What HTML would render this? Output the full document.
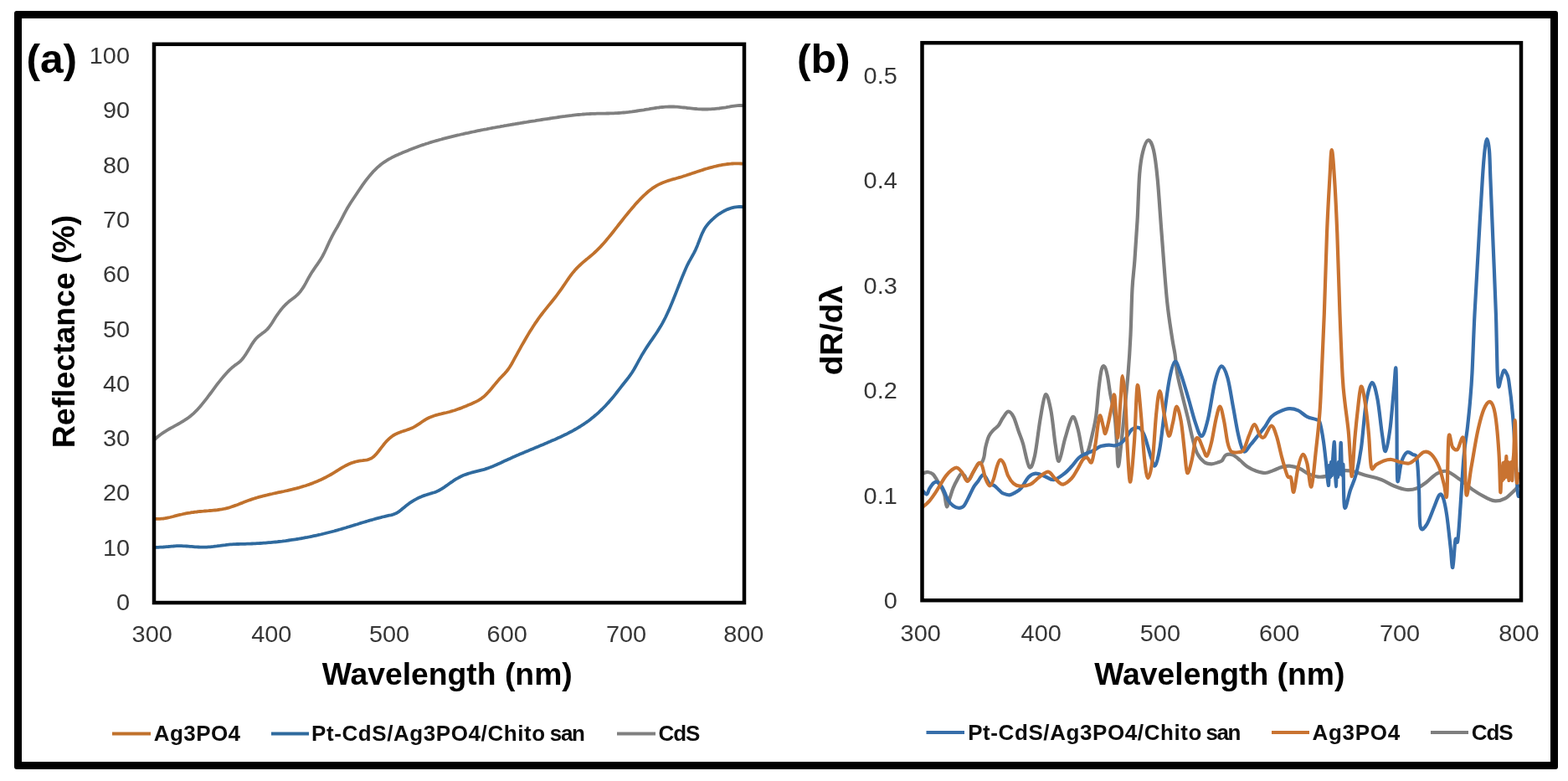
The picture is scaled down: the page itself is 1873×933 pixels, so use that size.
<!DOCTYPE html>
<html><head><meta charset="utf-8"><title>Reflectance and dR/dλ spectra</title>
<style>
html,body{margin:0;padding:0;background:#fff;}
body{width:1873px;height:933px;overflow:hidden;}
svg{display:block;}
</style></head><body>
<svg width="1873" height="933" viewBox="0 0 1873 933">
<rect x="0" y="0" width="1873" height="933" fill="#fff"/>
<rect x="17" y="13" width="1844" height="906" rx="3" ry="3" fill="#000"/>
<rect x="26" y="22" width="1826" height="888" fill="#fff"/>

<g id="panel-a">
<g font-family="Liberation Sans, Arial, sans-serif" font-weight="bold" fill="#000" font-size="48">
<text x="31.4" y="87.0" textLength="60.8" lengthAdjust="spacingAndGlyphs" >(a)</text>
</g>
<g fill="#363636" font-family="Liberation Sans, Arial, sans-serif" font-size="27">
<text x="155.0" y="729.1" text-anchor="end" textLength="16.1" lengthAdjust="spacingAndGlyphs">0</text>
<text x="155.0" y="663.8" text-anchor="end" textLength="32.1" lengthAdjust="spacingAndGlyphs">10</text>
<text x="155.0" y="598.4" text-anchor="end" textLength="32.1" lengthAdjust="spacingAndGlyphs">20</text>
<text x="155.0" y="533.1" text-anchor="end" textLength="32.1" lengthAdjust="spacingAndGlyphs">30</text>
<text x="155.0" y="467.8" text-anchor="end" textLength="32.1" lengthAdjust="spacingAndGlyphs">40</text>
<text x="155.0" y="402.5" text-anchor="end" textLength="32.1" lengthAdjust="spacingAndGlyphs">50</text>
<text x="155.0" y="337.2" text-anchor="end" textLength="32.1" lengthAdjust="spacingAndGlyphs">60</text>
<text x="155.0" y="271.9" text-anchor="end" textLength="32.1" lengthAdjust="spacingAndGlyphs">70</text>
<text x="155.0" y="206.6" text-anchor="end" textLength="32.1" lengthAdjust="spacingAndGlyphs">80</text>
<text x="155.0" y="141.3" text-anchor="end" textLength="32.1" lengthAdjust="spacingAndGlyphs">90</text>
<text x="155.0" y="76.0" text-anchor="end" textLength="48.2" lengthAdjust="spacingAndGlyphs">100</text>
<text x="181.7" y="767.2" text-anchor="middle" textLength="48.2" lengthAdjust="spacingAndGlyphs">300</text>
<text x="324.3" y="767.2" text-anchor="middle" textLength="48.2" lengthAdjust="spacingAndGlyphs">400</text>
<text x="465.1" y="767.2" text-anchor="middle" textLength="48.2" lengthAdjust="spacingAndGlyphs">500</text>
<text x="605.7" y="767.2" text-anchor="middle" textLength="48.2" lengthAdjust="spacingAndGlyphs">600</text>
<text x="748.0" y="767.2" text-anchor="middle" textLength="48.2" lengthAdjust="spacingAndGlyphs">700</text>
<text x="888.3" y="767.2" text-anchor="middle" textLength="48.2" lengthAdjust="spacingAndGlyphs">800</text>
</g>
<g font-family="Liberation Sans, Arial, sans-serif" font-weight="bold" fill="#000" font-size="36">
<text x="0.0" y="0.0" text-anchor="middle" textLength="278.3" lengthAdjust="spacingAndGlyphs" transform="translate(88.6,396) rotate(-90)">Reflectance (%)</text>
<text x="534.2" y="817.6" text-anchor="middle" textLength="299.1" lengthAdjust="spacingAndGlyphs" >Wavelength (nm)</text>
</g>
<g fill="none" stroke-width="3.8" stroke-linejoin="round" stroke-linecap="round">
<path stroke="#2F6A9E" d="M185.0 653.8 L187.0 653.8 L189.0 653.8 L191.0 653.7 L193.0 653.6 L195.0 653.5 L197.0 653.3 L199.0 653.1 L201.0 653.0 L203.0 652.8 L205.0 652.6 L207.0 652.5 L209.0 652.3 L211.0 652.2 L213.0 652.2 L215.0 652.2 L217.0 652.2 L219.0 652.3 L221.0 652.4 L223.0 652.5 L225.0 652.6 L227.0 652.8 L229.0 652.9 L231.0 653.1 L233.0 653.3 L235.0 653.4 L237.0 653.5 L239.0 653.6 L241.0 653.7 L243.0 653.7 L245.0 653.6 L247.0 653.6 L249.0 653.4 L251.0 653.3 L253.0 653.1 L255.0 652.9 L257.0 652.6 L259.0 652.4 L261.0 652.1 L263.0 651.9 L265.0 651.6 L267.0 651.3 L269.0 651.1 L271.0 650.8 L273.0 650.6 L275.0 650.4 L277.0 650.3 L279.0 650.2 L281.0 650.1 L283.0 650.0 L285.0 650.0 L287.0 649.9 L289.0 649.9 L291.0 649.8 L293.0 649.8 L295.0 649.7 L297.0 649.7 L299.0 649.6 L301.0 649.5 L303.0 649.4 L305.0 649.3 L307.0 649.2 L309.0 649.1 L311.0 649.0 L313.0 648.9 L315.0 648.7 L317.0 648.6 L319.0 648.4 L321.0 648.2 L323.0 648.1 L325.0 647.9 L327.0 647.7 L329.0 647.5 L331.0 647.3 L333.0 647.0 L335.0 646.8 L337.0 646.6 L339.0 646.3 L341.0 646.1 L343.0 645.8 L345.0 645.5 L347.0 645.2 L349.0 644.9 L351.0 644.6 L353.0 644.3 L355.0 644.0 L357.0 643.7 L359.0 643.3 L361.0 643.0 L363.0 642.6 L365.0 642.2 L367.0 641.9 L369.0 641.5 L371.0 641.1 L373.0 640.7 L375.0 640.2 L377.0 639.8 L379.0 639.4 L381.0 638.9 L383.0 638.5 L385.0 638.0 L387.0 637.5 L389.0 637.0 L391.0 636.5 L393.0 636.0 L395.0 635.5 L397.0 635.0 L399.0 634.5 L401.0 633.9 L403.0 633.4 L405.0 632.8 L407.0 632.2 L409.0 631.6 L411.0 631.0 L413.0 630.5 L415.0 629.8 L417.0 629.2 L419.0 628.6 L421.0 628.0 L423.0 627.4 L425.0 626.8 L427.0 626.2 L429.0 625.5 L431.0 624.9 L433.0 624.3 L435.0 623.7 L437.0 623.1 L439.0 622.5 L441.0 621.9 L443.0 621.3 L445.0 620.8 L447.0 620.2 L449.0 619.6 L451.0 619.1 L453.0 618.6 L455.0 618.1 L457.0 617.5 L459.0 617.1 L461.0 616.6 L463.0 616.1 L465.0 615.7 L467.0 615.3 L469.0 614.8 L471.0 614.1 L473.0 613.3 L475.0 612.1 L477.0 610.8 L479.0 609.2 L481.0 607.5 L483.0 605.9 L485.0 604.3 L487.0 602.7 L489.0 601.2 L491.0 599.9 L493.0 598.6 L495.0 597.4 L497.0 596.3 L499.0 595.2 L501.0 594.3 L503.0 593.4 L505.0 592.6 L507.0 591.9 L509.0 591.2 L511.0 590.6 L513.0 590.0 L515.0 589.4 L517.0 588.8 L519.0 588.2 L521.0 587.4 L523.0 586.6 L525.0 585.5 L527.0 584.4 L529.0 583.1 L531.0 581.8 L533.0 580.4 L535.0 579.0 L537.0 577.5 L539.0 576.1 L541.0 574.8 L543.0 573.4 L545.0 572.2 L547.0 571.1 L549.0 570.0 L551.0 569.0 L553.0 568.1 L555.0 567.3 L557.0 566.6 L559.0 565.9 L561.0 565.3 L563.0 564.7 L565.0 564.2 L567.0 563.7 L569.0 563.2 L571.0 562.7 L573.0 562.2 L575.0 561.7 L577.0 561.2 L579.0 560.6 L581.0 559.9 L583.0 559.2 L585.0 558.5 L587.0 557.7 L589.0 556.9 L591.0 556.1 L593.0 555.2 L595.0 554.3 L597.0 553.4 L599.0 552.5 L601.0 551.5 L603.0 550.6 L605.0 549.7 L607.0 548.8 L609.0 547.9 L611.0 547.0 L613.0 546.1 L615.0 545.2 L617.0 544.3 L619.0 543.5 L621.0 542.6 L623.0 541.8 L625.0 540.9 L627.0 540.1 L629.0 539.2 L631.0 538.4 L633.0 537.6 L635.0 536.7 L637.0 535.9 L639.0 535.1 L641.0 534.2 L643.0 533.4 L645.0 532.6 L647.0 531.7 L649.0 530.9 L651.0 530.0 L653.0 529.2 L655.0 528.3 L657.0 527.5 L659.0 526.6 L661.0 525.7 L663.0 524.9 L665.0 524.0 L667.0 523.1 L669.0 522.2 L671.0 521.2 L673.0 520.3 L675.0 519.3 L677.0 518.4 L679.0 517.3 L681.0 516.3 L683.0 515.3 L685.0 514.2 L687.0 513.0 L689.0 511.9 L691.0 510.7 L693.0 509.5 L695.0 508.2 L697.0 506.9 L699.0 505.5 L701.0 504.1 L703.0 502.7 L705.0 501.2 L707.0 499.6 L709.0 498.0 L711.0 496.3 L713.0 494.6 L715.0 492.8 L717.0 490.9 L719.0 489.0 L721.0 487.0 L723.0 485.0 L725.0 482.8 L727.0 480.6 L729.0 478.3 L731.0 476.0 L733.0 473.6 L735.0 471.1 L737.0 468.5 L739.0 465.9 L741.0 463.3 L743.0 460.8 L745.0 458.3 L747.0 455.8 L749.0 453.3 L751.0 450.7 L753.0 447.9 L755.0 445.0 L757.0 441.7 L759.0 438.2 L761.0 434.6 L763.0 430.9 L765.0 427.3 L767.0 423.7 L769.0 420.4 L771.0 417.2 L773.0 414.1 L775.0 411.1 L777.0 408.2 L779.0 405.3 L781.0 402.4 L783.0 399.5 L785.0 396.5 L787.0 393.3 L789.0 390.1 L791.0 386.6 L793.0 382.9 L795.0 379.0 L797.0 374.8 L799.0 370.4 L801.0 365.7 L803.0 360.9 L805.0 356.0 L807.0 351.0 L809.0 345.9 L811.0 340.8 L813.0 335.7 L815.0 330.7 L817.0 325.9 L819.0 321.2 L821.0 316.8 L823.0 312.9 L825.0 309.3 L827.0 305.8 L829.0 302.2 L831.0 298.1 L833.0 293.4 L835.0 288.3 L837.0 283.1 L839.0 278.3 L841.0 274.3 L843.0 271.1 L845.0 268.4 L847.0 266.1 L849.0 264.0 L851.0 262.1 L853.0 260.3 L855.0 258.6 L857.0 257.1 L859.0 255.6 L861.0 254.3 L863.0 253.1 L865.0 252.0 L867.0 251.0 L869.0 250.1 L871.0 249.4 L873.0 248.7 L875.0 248.2 L877.0 247.7 L879.0 247.4 L881.0 247.2 L883.0 247.0 L885.0 247.0 L887.0 247.1"/>
<path stroke="#C0712C" d="M185.0 619.7 L187.0 619.9 L189.0 619.9 L191.0 619.9 L193.0 619.7 L195.0 619.5 L197.0 619.2 L199.0 618.8 L201.0 618.4 L203.0 618.0 L205.0 617.5 L207.0 617.0 L209.0 616.4 L211.0 615.9 L213.0 615.4 L215.0 614.9 L217.0 614.5 L219.0 614.0 L221.0 613.6 L223.0 613.2 L225.0 612.9 L227.0 612.6 L229.0 612.2 L231.0 612.0 L233.0 611.7 L235.0 611.5 L237.0 611.2 L239.0 611.0 L241.0 610.8 L243.0 610.7 L245.0 610.5 L247.0 610.3 L249.0 610.2 L251.0 610.0 L253.0 609.9 L255.0 609.7 L257.0 609.5 L259.0 609.3 L261.0 609.0 L263.0 608.7 L265.0 608.4 L267.0 608.0 L269.0 607.6 L271.0 607.1 L273.0 606.6 L275.0 606.0 L277.0 605.3 L279.0 604.6 L281.0 603.9 L283.0 603.2 L285.0 602.4 L287.0 601.6 L289.0 600.9 L291.0 600.1 L293.0 599.3 L295.0 598.5 L297.0 597.8 L299.0 597.1 L301.0 596.4 L303.0 595.7 L305.0 595.1 L307.0 594.5 L309.0 593.9 L311.0 593.4 L313.0 592.9 L315.0 592.3 L317.0 591.8 L319.0 591.4 L321.0 590.9 L323.0 590.4 L325.0 590.0 L327.0 589.5 L329.0 589.1 L331.0 588.7 L333.0 588.2 L335.0 587.8 L337.0 587.4 L339.0 587.0 L341.0 586.5 L343.0 586.1 L345.0 585.6 L347.0 585.1 L349.0 584.7 L351.0 584.2 L353.0 583.7 L355.0 583.1 L357.0 582.6 L359.0 582.0 L361.0 581.4 L363.0 580.8 L365.0 580.2 L367.0 579.5 L369.0 578.9 L371.0 578.1 L373.0 577.4 L375.0 576.6 L377.0 575.8 L379.0 575.0 L381.0 574.1 L383.0 573.2 L385.0 572.3 L387.0 571.3 L389.0 570.3 L391.0 569.2 L393.0 568.1 L395.0 567.0 L397.0 565.8 L399.0 564.6 L401.0 563.4 L403.0 562.1 L405.0 560.9 L407.0 559.6 L409.0 558.4 L411.0 557.3 L413.0 556.2 L415.0 555.2 L417.0 554.3 L419.0 553.4 L421.0 552.7 L423.0 552.1 L425.0 551.5 L427.0 551.1 L429.0 550.7 L431.0 550.4 L433.0 550.2 L435.0 549.9 L437.0 549.7 L439.0 549.3 L441.0 548.6 L443.0 547.8 L445.0 546.5 L447.0 544.9 L449.0 542.9 L451.0 540.6 L453.0 538.0 L455.0 535.4 L457.0 532.8 L459.0 530.3 L461.0 527.9 L463.0 525.8 L465.0 523.9 L467.0 522.2 L469.0 520.7 L471.0 519.5 L473.0 518.4 L475.0 517.5 L477.0 516.7 L479.0 515.9 L481.0 515.3 L483.0 514.6 L485.0 514.0 L487.0 513.3 L489.0 512.6 L491.0 511.8 L493.0 510.9 L495.0 509.9 L497.0 508.7 L499.0 507.4 L501.0 506.1 L503.0 504.7 L505.0 503.3 L507.0 502.0 L509.0 500.8 L511.0 499.8 L513.0 498.8 L515.0 498.0 L517.0 497.2 L519.0 496.5 L521.0 495.9 L523.0 495.4 L525.0 494.8 L527.0 494.4 L529.0 493.9 L531.0 493.4 L533.0 493.0 L535.0 492.5 L537.0 492.0 L539.0 491.4 L541.0 490.8 L543.0 490.2 L545.0 489.5 L547.0 488.8 L549.0 488.1 L551.0 487.4 L553.0 486.6 L555.0 485.8 L557.0 485.0 L559.0 484.1 L561.0 483.3 L563.0 482.4 L565.0 481.5 L567.0 480.6 L569.0 479.6 L571.0 478.6 L573.0 477.4 L575.0 476.1 L577.0 474.6 L579.0 472.8 L581.0 470.9 L583.0 468.8 L585.0 466.6 L587.0 464.2 L589.0 461.8 L591.0 459.4 L593.0 457.0 L595.0 454.6 L597.0 452.3 L599.0 450.2 L601.0 448.1 L603.0 446.1 L605.0 443.8 L607.0 441.3 L609.0 438.3 L611.0 435.0 L613.0 431.4 L615.0 427.7 L617.0 424.1 L619.0 420.4 L621.0 416.8 L623.0 413.2 L625.0 409.7 L627.0 406.2 L629.0 402.8 L631.0 399.4 L633.0 396.1 L635.0 392.9 L637.0 389.8 L639.0 386.7 L641.0 383.8 L643.0 380.9 L645.0 378.2 L647.0 375.5 L649.0 372.9 L651.0 370.4 L653.0 367.9 L655.0 365.4 L657.0 363.0 L659.0 360.5 L661.0 358.0 L663.0 355.5 L665.0 352.9 L667.0 350.2 L669.0 347.4 L671.0 344.6 L673.0 341.7 L675.0 338.7 L677.0 335.7 L679.0 332.8 L681.0 330.0 L683.0 327.4 L685.0 324.9 L687.0 322.6 L689.0 320.4 L691.0 318.4 L693.0 316.5 L695.0 314.7 L697.0 312.9 L699.0 311.2 L701.0 309.6 L703.0 307.9 L705.0 306.3 L707.0 304.6 L709.0 302.9 L711.0 301.0 L713.0 299.1 L715.0 297.1 L717.0 295.1 L719.0 292.9 L721.0 290.7 L723.0 288.4 L725.0 286.0 L727.0 283.6 L729.0 281.2 L731.0 278.7 L733.0 276.2 L735.0 273.6 L737.0 271.1 L739.0 268.5 L741.0 266.0 L743.0 263.5 L745.0 260.9 L747.0 258.4 L749.0 256.0 L751.0 253.5 L753.0 251.1 L755.0 248.7 L757.0 246.4 L759.0 244.1 L761.0 241.9 L763.0 239.7 L765.0 237.6 L767.0 235.6 L769.0 233.6 L771.0 231.8 L773.0 230.0 L775.0 228.3 L777.0 226.7 L779.0 225.2 L781.0 223.9 L783.0 222.6 L785.0 221.4 L787.0 220.4 L789.0 219.4 L791.0 218.5 L793.0 217.7 L795.0 217.0 L797.0 216.3 L799.0 215.6 L801.0 215.0 L803.0 214.4 L805.0 213.8 L807.0 213.3 L809.0 212.7 L811.0 212.1 L813.0 211.6 L815.0 211.0 L817.0 210.3 L819.0 209.7 L821.0 209.0 L823.0 208.4 L825.0 207.7 L827.0 207.0 L829.0 206.4 L831.0 205.7 L833.0 205.0 L835.0 204.4 L837.0 203.7 L839.0 203.1 L841.0 202.4 L843.0 201.8 L845.0 201.2 L847.0 200.6 L849.0 200.1 L851.0 199.6 L853.0 199.0 L855.0 198.6 L857.0 198.1 L859.0 197.7 L861.0 197.3 L863.0 196.9 L865.0 196.6 L867.0 196.3 L869.0 196.0 L871.0 195.8 L873.0 195.7 L875.0 195.5 L877.0 195.4 L879.0 195.4 L881.0 195.4 L883.0 195.4 L885.0 195.5 L887.0 195.7"/>
<path stroke="#808080" d="M185.0 524.8 L187.0 523.0 L189.0 521.3 L191.0 519.7 L193.0 518.3 L195.0 516.9 L197.0 515.6 L199.0 514.4 L201.0 513.2 L203.0 512.0 L205.0 510.9 L207.0 509.8 L209.0 508.7 L211.0 507.6 L213.0 506.5 L215.0 505.4 L217.0 504.2 L219.0 503.0 L221.0 501.7 L223.0 500.4 L225.0 499.0 L227.0 497.4 L229.0 495.8 L231.0 494.1 L233.0 492.2 L235.0 490.2 L237.0 488.0 L239.0 485.8 L241.0 483.4 L243.0 480.9 L245.0 478.4 L247.0 475.8 L249.0 473.2 L251.0 470.5 L253.0 467.8 L255.0 465.1 L257.0 462.4 L259.0 459.7 L261.0 457.1 L263.0 454.6 L265.0 452.1 L267.0 449.7 L269.0 447.4 L271.0 445.2 L273.0 443.1 L275.0 441.1 L277.0 439.3 L279.0 437.7 L281.0 436.1 L283.0 434.7 L285.0 433.3 L287.0 431.6 L289.0 429.5 L291.0 427.0 L293.0 424.2 L295.0 421.0 L297.0 417.7 L299.0 414.4 L301.0 411.1 L303.0 408.1 L305.0 405.5 L307.0 403.3 L309.0 401.5 L311.0 399.9 L313.0 398.4 L315.0 397.0 L317.0 395.4 L319.0 393.6 L321.0 391.4 L323.0 388.7 L325.0 385.7 L327.0 382.5 L329.0 379.3 L331.0 376.3 L333.0 373.5 L335.0 370.8 L337.0 368.4 L339.0 366.1 L341.0 364.0 L343.0 362.1 L345.0 360.3 L347.0 358.7 L349.0 357.3 L351.0 355.8 L353.0 354.2 L355.0 352.4 L357.0 350.4 L359.0 348.0 L361.0 345.2 L363.0 342.1 L365.0 338.6 L367.0 334.9 L369.0 331.2 L371.0 327.8 L373.0 324.6 L375.0 321.6 L377.0 318.7 L379.0 315.8 L381.0 312.9 L383.0 309.9 L385.0 306.5 L387.0 302.7 L389.0 298.5 L391.0 294.1 L393.0 289.7 L395.0 285.6 L397.0 281.6 L399.0 277.9 L401.0 274.4 L403.0 271.0 L405.0 267.4 L407.0 263.7 L409.0 259.8 L411.0 255.9 L413.0 252.1 L415.0 248.5 L417.0 245.2 L419.0 242.0 L421.0 239.0 L423.0 236.0 L425.0 233.0 L427.0 230.0 L429.0 227.0 L431.0 224.1 L433.0 221.2 L435.0 218.4 L437.0 215.7 L439.0 213.1 L441.0 210.6 L443.0 208.2 L445.0 205.9 L447.0 203.8 L449.0 201.8 L451.0 199.9 L453.0 198.2 L455.0 196.5 L457.0 195.0 L459.0 193.6 L461.0 192.3 L463.0 191.0 L465.0 189.9 L467.0 188.8 L469.0 187.7 L471.0 186.8 L473.0 185.8 L475.0 184.9 L477.0 184.0 L479.0 183.2 L481.0 182.3 L483.0 181.5 L485.0 180.7 L487.0 179.9 L489.0 179.1 L491.0 178.3 L493.0 177.5 L495.0 176.7 L497.0 176.0 L499.0 175.2 L501.0 174.5 L503.0 173.8 L505.0 173.1 L507.0 172.5 L509.0 171.8 L511.0 171.2 L513.0 170.5 L515.0 169.9 L517.0 169.3 L519.0 168.7 L521.0 168.1 L523.0 167.6 L525.0 167.0 L527.0 166.5 L529.0 165.9 L531.0 165.4 L533.0 164.9 L535.0 164.4 L537.0 163.9 L539.0 163.4 L541.0 162.9 L543.0 162.4 L545.0 161.9 L547.0 161.4 L549.0 161.0 L551.0 160.5 L553.0 160.1 L555.0 159.6 L557.0 159.2 L559.0 158.8 L561.0 158.3 L563.0 157.9 L565.0 157.5 L567.0 157.1 L569.0 156.6 L571.0 156.2 L573.0 155.8 L575.0 155.4 L577.0 155.0 L579.0 154.6 L581.0 154.3 L583.0 153.9 L585.0 153.5 L587.0 153.1 L589.0 152.7 L591.0 152.4 L593.0 152.0 L595.0 151.6 L597.0 151.3 L599.0 150.9 L601.0 150.6 L603.0 150.2 L605.0 149.9 L607.0 149.5 L609.0 149.2 L611.0 148.8 L613.0 148.5 L615.0 148.2 L617.0 147.8 L619.0 147.5 L621.0 147.2 L623.0 146.8 L625.0 146.5 L627.0 146.2 L629.0 145.9 L631.0 145.5 L633.0 145.2 L635.0 144.9 L637.0 144.6 L639.0 144.3 L641.0 143.9 L643.0 143.6 L645.0 143.3 L647.0 143.0 L649.0 142.7 L651.0 142.4 L653.0 142.1 L655.0 141.8 L657.0 141.5 L659.0 141.2 L661.0 140.9 L663.0 140.6 L665.0 140.3 L667.0 140.0 L669.0 139.7 L671.0 139.4 L673.0 139.1 L675.0 138.9 L677.0 138.6 L679.0 138.3 L681.0 138.1 L683.0 137.9 L685.0 137.6 L687.0 137.4 L689.0 137.2 L691.0 137.0 L693.0 136.8 L695.0 136.7 L697.0 136.5 L699.0 136.4 L701.0 136.2 L703.0 136.1 L705.0 136.0 L707.0 135.9 L709.0 135.8 L711.0 135.8 L713.0 135.7 L715.0 135.7 L717.0 135.7 L719.0 135.6 L721.0 135.6 L723.0 135.6 L725.0 135.5 L727.0 135.5 L729.0 135.4 L731.0 135.4 L733.0 135.3 L735.0 135.2 L737.0 135.1 L739.0 135.0 L741.0 134.9 L743.0 134.7 L745.0 134.5 L747.0 134.3 L749.0 134.1 L751.0 133.9 L753.0 133.6 L755.0 133.4 L757.0 133.1 L759.0 132.8 L761.0 132.5 L763.0 132.2 L765.0 131.9 L767.0 131.6 L769.0 131.3 L771.0 130.9 L773.0 130.6 L775.0 130.3 L777.0 129.9 L779.0 129.6 L781.0 129.3 L783.0 129.0 L785.0 128.7 L787.0 128.5 L789.0 128.2 L791.0 128.0 L793.0 127.8 L795.0 127.7 L797.0 127.6 L799.0 127.5 L801.0 127.5 L803.0 127.5 L805.0 127.5 L807.0 127.6 L809.0 127.7 L811.0 127.9 L813.0 128.1 L815.0 128.3 L817.0 128.5 L819.0 128.7 L821.0 129.0 L823.0 129.2 L825.0 129.4 L827.0 129.6 L829.0 129.9 L831.0 130.0 L833.0 130.2 L835.0 130.3 L837.0 130.4 L839.0 130.5 L841.0 130.5 L843.0 130.5 L845.0 130.5 L847.0 130.4 L849.0 130.3 L851.0 130.2 L853.0 130.1 L855.0 129.9 L857.0 129.7 L859.0 129.5 L861.0 129.2 L863.0 128.9 L865.0 128.6 L867.0 128.3 L869.0 127.9 L871.0 127.6 L873.0 127.2 L875.0 126.9 L877.0 126.6 L879.0 126.3 L881.0 126.1 L883.0 126.0 L885.0 126.0 L887.0 126.1"/>
</g>
<rect x="184" y="52.8" width="705" height="667.2" fill="none" stroke="#000" stroke-width="4.5"/>
<g stroke-width="4" stroke-linecap="butt">
<line x1="134" y1="876.5" x2="180" y2="876.5" stroke="#C0712C"/>
<line x1="324" y1="876.5" x2="369" y2="876.5" stroke="#2F6A9E"/>
<line x1="737" y1="876.5" x2="783" y2="876.5" stroke="#808080"/>
</g>
<g font-family="Liberation Sans, Arial, sans-serif" font-weight="bold" fill="#0d0d0d" font-size="26">
<text x="183.8" y="885.0" textLength="103.2" lengthAdjust="spacing" >Ag3PO4</text>
<text x="372.0" y="885.0" textLength="279.2" lengthAdjust="spacing" >Pt-CdS/Ag3PO4/Chito</text>
<text x="656.8" y="885.0" textLength="42.1" lengthAdjust="spacing" >san</text>
<text x="786.5" y="885.0" textLength="49.9" lengthAdjust="spacing" >CdS</text>
</g>
</g>
<g id="panel-b">
<g font-family="Liberation Sans, Arial, sans-serif" font-weight="bold" fill="#000" font-size="48">
<text x="952.0" y="86.7" textLength="63.7" lengthAdjust="spacingAndGlyphs" >(b)</text>
</g>
<g fill="#363636" font-family="Liberation Sans, Arial, sans-serif" font-size="27">
<text x="1071.8" y="727.1" text-anchor="end" textLength="16.1" lengthAdjust="spacingAndGlyphs">0</text>
<text x="1071.8" y="601.6" text-anchor="end" textLength="40.2" lengthAdjust="spacingAndGlyphs">0.1</text>
<text x="1071.8" y="476.1" text-anchor="end" textLength="40.2" lengthAdjust="spacingAndGlyphs">0.2</text>
<text x="1071.8" y="350.6" text-anchor="end" textLength="40.2" lengthAdjust="spacingAndGlyphs">0.3</text>
<text x="1071.8" y="225.1" text-anchor="end" textLength="40.2" lengthAdjust="spacingAndGlyphs">0.4</text>
<text x="1071.8" y="99.6" text-anchor="end" textLength="40.2" lengthAdjust="spacingAndGlyphs">0.5</text>
<text x="1099.7" y="765.5" text-anchor="middle" textLength="48.2" lengthAdjust="spacingAndGlyphs">300</text>
<text x="1243.7" y="765.5" text-anchor="middle" textLength="48.2" lengthAdjust="spacingAndGlyphs">400</text>
<text x="1385.9" y="765.5" text-anchor="middle" textLength="48.2" lengthAdjust="spacingAndGlyphs">500</text>
<text x="1528.2" y="765.5" text-anchor="middle" textLength="48.2" lengthAdjust="spacingAndGlyphs">600</text>
<text x="1672.0" y="765.5" text-anchor="middle" textLength="48.2" lengthAdjust="spacingAndGlyphs">700</text>
<text x="1814.4" y="765.5" text-anchor="middle" textLength="48.2" lengthAdjust="spacingAndGlyphs">800</text>
</g>
<g font-family="Liberation Sans, Arial, sans-serif" font-weight="bold" fill="#000" font-size="36">
<text x="0.0" y="0.0" text-anchor="middle" textLength="107.2" lengthAdjust="spacingAndGlyphs" transform="translate(1005.5,394.7) rotate(-90)">dR/dλ</text>
<text x="1456.8" y="817.6" text-anchor="middle" textLength="299.1" lengthAdjust="spacingAndGlyphs" >Wavelength (nm)</text>
</g>
<g fill="none" stroke-width="4.2" stroke-linejoin="round" stroke-linecap="round">
<path stroke="#7E7E7E" d="M1102.0 566.0 C1102.4 565.8 1103.2 565.2 1104.3 564.9 C1105.4 564.6 1106.9 563.7 1108.6 564.0 C1110.3 564.3 1112.8 564.9 1114.6 566.6 C1116.4 568.3 1118.0 571.6 1119.7 574.3 C1121.4 577.0 1123.5 580.0 1124.9 582.9 C1126.3 585.8 1127.3 587.8 1128.3 591.5 C1129.3 595.2 1129.9 604.5 1130.9 605.2 C1131.9 605.9 1133.0 599.4 1134.3 595.7 C1135.6 592.0 1137.0 586.8 1138.6 582.9 C1140.2 579.0 1142.1 575.4 1143.7 572.6 C1145.3 569.8 1146.6 566.8 1148.0 566.0 C1149.4 565.2 1150.8 566.7 1152.0 568.0 C1153.2 569.3 1154.3 573.5 1155.5 574.0 C1156.7 574.5 1157.9 572.5 1159.0 571.0 C1160.1 569.5 1160.8 567.2 1162.0 565.0 C1163.2 562.8 1164.8 559.9 1166.0 558.0 C1167.2 556.1 1167.9 554.3 1169.0 553.5 C1170.1 552.7 1171.4 554.2 1172.5 553.0 C1173.6 551.8 1174.6 549.2 1175.4 546.0 C1176.2 542.8 1176.3 538.1 1177.3 534.0 C1178.3 529.9 1179.7 524.5 1181.2 521.2 C1182.7 517.9 1184.4 516.2 1186.3 514.1 C1188.2 512.0 1190.8 510.8 1192.7 508.3 C1194.6 505.8 1196.0 502.1 1197.9 499.3 C1199.8 496.5 1202.2 491.8 1204.3 491.6 C1206.4 491.4 1208.6 493.9 1210.7 498.0 C1212.8 502.1 1215.1 510.7 1217.0 516.0 C1218.9 521.3 1219.9 523.0 1222.0 530.0 C1224.1 537.0 1227.2 555.6 1229.6 558.0 C1231.9 560.4 1233.9 553.7 1236.1 544.3 C1238.2 534.9 1240.4 513.5 1242.5 501.4 C1244.6 489.2 1246.8 473.2 1248.9 471.4 C1251.1 469.6 1253.4 480.7 1255.4 490.7 C1257.4 500.7 1259.1 521.4 1260.7 531.4 C1262.3 541.4 1263.0 552.1 1265.0 550.7 C1267.0 549.3 1269.8 531.6 1272.5 522.9 C1275.2 514.1 1278.6 500.0 1281.1 498.2 C1283.6 496.4 1285.5 505.1 1287.5 512.1 C1289.5 519.1 1291.6 534.2 1292.9 540.0 C1294.2 545.8 1294.3 547.3 1295.5 547.0 C1296.7 546.7 1298.4 542.8 1300.0 538.0 C1301.6 533.2 1303.5 524.8 1305.0 518.0 C1306.5 511.2 1307.9 506.5 1309.2 497.3 C1310.5 488.1 1311.5 472.3 1312.6 462.9 C1313.7 453.4 1314.8 444.8 1316.0 440.6 C1317.2 436.5 1318.3 436.6 1319.5 438.0 C1320.7 439.4 1321.8 443.6 1322.9 449.2 C1324.1 454.8 1325.0 463.5 1326.4 471.5 C1327.8 479.5 1330.2 487.3 1331.5 497.3 C1332.8 507.3 1333.4 521.6 1334.1 531.6 C1334.8 541.6 1334.9 557.3 1335.8 557.3 C1336.7 557.3 1337.9 543.0 1339.2 531.6 C1340.5 520.2 1342.1 502.8 1343.5 488.7 C1344.9 474.6 1346.3 461.8 1347.5 447.0 C1348.7 432.2 1349.7 417.0 1350.5 400.0 C1351.3 383.0 1351.7 359.8 1352.5 345.0 C1353.3 330.2 1354.4 324.7 1355.4 311.0 C1356.4 297.3 1357.6 280.2 1358.6 263.0 C1359.6 245.8 1360.1 221.5 1361.2 208.0 C1362.3 194.5 1363.3 188.8 1365.0 182.0 C1366.7 175.2 1369.3 168.0 1371.5 167.5 C1373.7 167.0 1376.0 171.2 1377.9 179.0 C1379.8 186.8 1381.1 197.3 1382.7 214.0 C1384.3 230.7 1385.7 254.8 1387.6 279.0 C1389.5 303.2 1391.9 338.3 1394.0 359.0 C1396.1 379.7 1398.4 392.3 1400.0 403.0 C1401.6 413.7 1402.4 415.7 1403.5 423.0 C1404.6 430.3 1404.8 438.3 1406.4 447.0 C1408.0 455.7 1410.8 466.1 1412.9 475.0 C1415.1 483.9 1417.3 492.5 1419.3 500.7 C1421.2 508.9 1422.8 517.5 1424.6 524.3 C1426.4 531.1 1427.7 536.8 1430.0 541.4 C1432.3 546.0 1435.8 550.0 1438.6 552.1 C1441.4 554.2 1444.2 554.3 1447.1 554.3 C1449.9 554.3 1453.5 552.8 1455.7 552.1 C1457.9 551.4 1458.6 551.4 1460.0 550.0 C1461.4 548.6 1462.1 544.7 1464.3 543.6 C1466.5 542.5 1470.1 542.5 1472.9 543.6 C1475.8 544.7 1478.6 547.7 1481.4 550.0 C1484.2 552.3 1486.8 555.4 1490.0 557.5 C1493.2 559.6 1497.1 561.5 1500.7 562.8 C1504.3 564.0 1508.1 565.1 1511.4 565.0 C1514.7 564.9 1517.4 563.3 1520.7 562.1 C1524.0 560.9 1527.8 558.8 1531.4 557.9 C1535.0 557.0 1538.5 556.4 1542.1 556.8 C1545.7 557.1 1549.3 558.4 1552.9 560.0 C1556.5 561.6 1560.0 564.8 1563.6 566.4 C1567.2 568.0 1570.7 569.2 1574.3 569.6 C1577.9 570.0 1581.4 569.5 1585.0 568.6 C1588.6 567.7 1592.1 565.4 1595.7 564.3 C1599.3 563.2 1602.8 562.3 1606.4 562.1 C1610.0 561.9 1613.2 562.3 1617.1 563.2 C1621.0 564.1 1624.5 565.9 1630.0 567.5 C1635.5 569.1 1644.2 570.8 1650.0 573.0 C1655.8 575.2 1660.0 578.5 1665.0 580.5 C1670.0 582.5 1675.5 584.5 1680.0 585.0 C1684.5 585.5 1688.0 585.0 1692.0 583.5 C1696.0 582.0 1700.0 578.9 1704.0 576.0 C1708.0 573.1 1712.0 568.2 1716.0 566.0 C1720.0 563.8 1723.3 561.9 1728.0 563.0 C1732.7 564.1 1738.8 569.2 1744.0 572.9 C1749.2 576.5 1754.0 581.4 1759.0 584.9 C1764.0 588.4 1769.5 591.6 1774.0 593.9 C1778.5 596.1 1782.0 598.1 1786.0 598.4 C1790.0 598.6 1794.0 597.6 1798.0 595.4 C1802.0 593.1 1807.4 587.4 1810.0 584.9 C1812.6 582.4 1812.9 581.1 1813.5 580.4"/>
<path stroke="#376EAA" d="M1102.0 586.0 C1102.8 586.8 1105.5 591.0 1106.9 590.6 C1108.3 590.2 1108.9 586.0 1110.3 583.7 C1111.7 581.4 1113.8 578.2 1115.4 576.9 C1117.0 575.6 1118.1 575.3 1119.7 576.0 C1121.3 576.7 1123.5 579.2 1124.9 581.2 C1126.3 583.2 1127.0 585.3 1128.3 588.0 C1129.6 590.7 1130.9 594.8 1132.6 597.5 C1134.3 600.2 1136.4 602.7 1138.6 604.3 C1140.8 605.9 1143.3 606.9 1145.5 606.9 C1147.7 606.9 1149.4 606.9 1151.5 604.3 C1153.6 601.7 1156.3 595.4 1158.3 591.5 C1160.3 587.6 1161.8 584.0 1163.5 581.2 C1165.2 578.4 1167.3 576.4 1168.6 574.5 C1169.9 572.6 1170.5 571.2 1171.5 570.0 C1172.5 568.8 1173.4 566.8 1174.5 567.0 C1175.6 567.2 1176.8 569.2 1178.0 571.0 C1179.2 572.8 1180.4 576.5 1182.0 578.0 C1183.6 579.5 1185.5 578.6 1187.5 580.0 C1189.5 581.4 1192.6 584.8 1194.3 586.3 C1196.0 587.8 1196.0 588.5 1197.9 589.3 C1199.8 590.1 1203.0 591.5 1205.6 591.3 C1208.2 591.1 1210.9 589.4 1213.3 588.0 C1215.7 586.6 1217.5 585.9 1220.0 582.9 C1222.5 579.9 1225.8 572.9 1228.6 570.0 C1231.4 567.1 1233.9 565.9 1237.1 565.7 C1240.3 565.5 1244.3 567.6 1247.9 568.9 C1251.5 570.1 1254.7 573.7 1258.6 573.2 C1262.5 572.7 1267.8 568.4 1271.4 565.7 C1275.0 563.1 1277.1 560.4 1280.0 557.3 C1282.9 554.2 1285.7 549.6 1288.6 547.0 C1291.5 544.4 1294.3 543.3 1297.2 541.9 C1300.1 540.5 1303.0 539.9 1305.8 538.5 C1308.6 537.1 1311.2 534.4 1314.3 533.3 C1317.4 532.1 1321.7 531.8 1324.6 531.6 C1327.5 531.5 1329.2 532.7 1331.5 532.4 C1333.8 532.1 1336.1 531.5 1338.4 529.9 C1340.7 528.3 1342.9 525.8 1345.2 523.0 C1347.5 520.2 1349.5 515.0 1352.1 513.0 C1354.7 511.0 1358.4 510.2 1360.7 511.0 C1363.0 511.8 1364.6 515.3 1366.0 518.0 C1367.4 520.7 1367.7 522.0 1369.3 527.1 C1370.9 532.2 1373.9 543.8 1375.7 548.6 C1377.5 553.4 1378.4 558.2 1380.0 556.1 C1381.6 554.0 1383.6 545.9 1385.4 535.7 C1387.2 525.5 1388.8 508.9 1390.7 495.0 C1392.7 481.1 1394.9 462.6 1397.1 452.1 C1399.2 441.6 1401.3 432.8 1403.6 432.0 C1405.9 431.2 1408.1 439.9 1410.7 447.1 C1413.3 454.3 1416.4 465.4 1419.3 475.0 C1422.2 484.6 1425.2 497.3 1427.9 505.0 C1430.6 512.7 1432.9 521.8 1435.4 521.1 C1437.9 520.4 1440.2 511.6 1442.9 500.7 C1445.6 489.8 1448.7 466.2 1451.4 455.7 C1454.1 445.2 1456.4 438.2 1458.9 437.5 C1461.4 436.8 1464.1 443.4 1466.4 451.4 C1468.7 459.4 1470.8 474.3 1472.9 485.7 C1475.1 497.1 1477.2 511.1 1479.3 520.0 C1481.4 528.9 1483.2 537.5 1485.7 539.3 C1488.2 541.1 1491.4 533.9 1494.3 530.7 C1497.2 527.5 1500.1 523.6 1502.9 520.0 C1505.8 516.4 1508.8 513.0 1511.4 509.3 C1514.0 505.6 1515.6 500.9 1518.6 497.9 C1521.6 494.9 1525.7 493.0 1529.3 491.4 C1532.9 489.8 1536.4 488.4 1540.0 488.2 C1543.6 488.0 1547.1 488.8 1550.7 490.4 C1554.3 492.0 1557.8 496.1 1561.4 497.9 C1565.0 499.7 1569.6 500.0 1572.1 501.1 C1574.6 502.2 1575.0 500.2 1576.4 504.3 C1577.8 508.4 1579.5 517.8 1580.7 525.7 C1582.0 533.7 1582.9 543.0 1583.9 552.0 C1584.9 561.0 1586.1 579.3 1586.8 580.0 C1587.5 580.7 1587.6 557.7 1588.0 556.0 C1588.4 554.3 1588.7 570.7 1589.0 570.0 C1589.3 569.3 1589.7 552.3 1590.0 552.0 C1590.3 551.7 1590.7 568.3 1591.0 568.0 C1591.3 567.7 1591.5 556.7 1592.0 550.0 C1592.5 543.3 1593.4 527.2 1593.9 528.0 C1594.4 528.8 1594.5 546.2 1594.8 555.0 C1595.1 563.8 1595.4 580.8 1595.8 581.0 C1596.2 581.2 1596.6 557.8 1597.0 556.0 C1597.4 554.2 1597.7 570.7 1598.0 570.0 C1598.3 569.3 1598.6 552.7 1599.0 552.0 C1599.4 551.3 1599.8 569.8 1600.2 566.0 C1600.6 562.2 1601.2 531.3 1601.6 529.0 C1602.0 526.7 1602.3 545.5 1602.6 552.0 C1602.9 558.5 1603.2 567.3 1603.5 568.0 C1603.8 568.7 1604.1 549.7 1604.5 556.0 C1604.9 562.3 1604.7 601.0 1606.1 606.0 C1607.5 611.0 1610.6 592.4 1612.9 585.7 C1615.2 579.0 1617.8 574.5 1620.0 566.0 C1622.2 557.5 1624.0 549.3 1626.0 535.0 C1628.0 520.7 1629.8 493.0 1632.0 480.0 C1634.2 467.0 1636.8 457.5 1639.0 457.0 C1641.2 456.5 1643.5 466.7 1645.5 477.0 C1647.5 487.3 1649.4 508.7 1651.0 519.0 C1652.6 529.3 1653.4 540.2 1655.0 539.0 C1656.6 537.8 1658.8 524.3 1660.5 512.0 C1662.2 499.7 1663.8 476.8 1665.0 465.0 C1666.2 453.2 1666.9 433.5 1667.5 441.0 C1668.1 448.5 1668.2 487.8 1668.5 510.0 C1668.8 532.2 1668.4 567.0 1669.3 574.0 C1670.2 581.0 1672.1 557.6 1674.0 552.0 C1675.9 546.4 1678.2 542.0 1680.5 540.5 C1682.8 539.0 1685.5 541.8 1687.5 543.0 C1689.5 544.2 1691.2 541.0 1692.5 548.0 C1693.8 555.0 1694.3 571.5 1695.0 585.0 C1695.7 598.5 1695.1 622.0 1696.6 629.0 C1698.1 636.0 1701.3 630.8 1704.0 627.0 C1706.7 623.2 1710.5 611.9 1713.0 606.0 C1715.5 600.1 1717.4 593.5 1719.2 591.5 C1721.0 589.5 1722.2 590.2 1723.7 594.2 C1725.2 598.2 1726.7 605.2 1728.2 615.2 C1729.7 625.2 1731.5 643.7 1732.7 654.2 C1733.9 664.7 1734.3 679.5 1735.3 678.0 C1736.3 676.5 1737.5 650.3 1738.5 645.0 C1739.5 639.7 1740.3 652.7 1741.3 646.0 C1742.3 639.3 1743.3 621.7 1744.5 605.0 C1745.7 588.3 1747.1 561.8 1748.5 546.0 C1749.9 530.2 1751.8 521.0 1753.0 510.0 C1754.2 499.0 1755.1 490.8 1756.0 480.0 C1756.9 469.2 1757.6 462.5 1758.5 445.0 C1759.4 427.5 1760.2 400.0 1761.5 375.0 C1762.8 350.0 1764.5 321.8 1766.0 295.0 C1767.5 268.2 1769.5 233.2 1770.8 214.0 C1772.0 194.8 1772.6 188.0 1773.5 180.0 C1774.4 172.0 1775.4 166.0 1776.3 166.0 C1777.2 166.0 1778.3 172.0 1779.0 180.0 C1779.7 188.0 1779.6 194.8 1780.4 214.0 C1781.2 233.2 1782.6 268.2 1783.7 295.0 C1784.8 321.8 1786.1 350.8 1786.9 375.0 C1787.7 399.2 1788.0 425.5 1788.5 440.0 C1789.0 454.5 1789.2 460.0 1790.0 462.0 C1790.8 464.0 1791.9 455.2 1793.0 452.0 C1794.1 448.8 1795.2 443.3 1796.4 442.5 C1797.6 441.7 1799.0 444.8 1800.0 447.0 C1801.0 449.2 1801.2 448.0 1802.4 456.0 C1803.6 464.0 1805.7 481.0 1806.9 495.0 C1808.2 509.0 1808.9 524.5 1809.9 540.0 C1810.9 555.5 1812.1 579.3 1812.9 588.0 C1813.8 596.7 1814.7 591.3 1815.0 592.0"/>
<path stroke="#C97331" d="M1102.0 606.0 C1103.4 604.7 1107.8 601.1 1110.3 598.3 C1112.8 595.4 1114.9 592.3 1117.2 588.9 C1119.5 585.5 1121.9 581.1 1124.0 577.7 C1126.1 574.3 1127.8 571.0 1130.0 568.3 C1132.2 565.6 1134.8 563.0 1136.9 561.4 C1139.1 559.8 1140.9 558.3 1142.9 558.7 C1144.9 559.1 1146.9 561.3 1149.0 564.0 C1151.1 566.7 1153.3 574.8 1155.5 575.0 C1157.7 575.2 1159.8 568.6 1162.0 565.0 C1164.2 561.4 1167.2 555.0 1169.0 553.5 C1170.8 552.0 1171.6 552.8 1173.0 556.0 C1174.4 559.2 1175.9 568.4 1177.5 572.5 C1179.1 576.6 1180.8 580.6 1182.4 580.5 C1184.0 580.4 1185.6 575.9 1187.0 572.0 C1188.4 568.1 1189.7 560.8 1191.0 557.0 C1192.3 553.2 1193.2 550.0 1194.6 549.5 C1196.0 549.0 1197.6 550.8 1199.2 554.0 C1200.8 557.2 1202.4 564.8 1204.3 568.7 C1206.2 572.7 1208.4 575.7 1210.7 577.7 C1213.0 579.7 1214.6 580.6 1217.9 580.7 C1221.2 580.9 1226.8 580.4 1230.7 578.6 C1234.6 576.8 1237.8 572.5 1241.4 570.0 C1245.0 567.5 1248.9 563.2 1252.1 563.6 C1255.3 564.0 1257.8 569.6 1260.7 572.1 C1263.6 574.6 1266.1 578.7 1269.3 578.6 C1272.5 578.5 1277.1 574.5 1280.0 571.5 C1282.9 568.5 1284.6 564.6 1286.9 560.8 C1289.2 557.0 1291.7 551.1 1293.7 548.8 C1295.7 546.5 1297.2 546.4 1298.9 547.0 C1300.6 547.6 1302.4 554.8 1304.0 552.2 C1305.6 549.6 1307.0 539.3 1308.3 531.6 C1309.6 523.9 1310.8 511.7 1311.8 505.8 C1312.8 499.9 1313.3 495.8 1314.3 496.4 C1315.3 497.0 1316.8 505.7 1317.8 509.3 C1318.8 512.9 1319.3 518.5 1320.3 517.9 C1321.3 517.3 1322.5 511.2 1323.8 505.8 C1325.1 500.4 1326.8 490.6 1328.1 485.2 C1329.4 479.8 1330.4 466.9 1331.5 473.2 C1332.6 479.5 1333.8 521.9 1334.9 523.0 C1336.1 524.1 1337.4 492.4 1338.4 480.1 C1339.4 467.8 1339.9 449.2 1340.9 449.2 C1341.9 449.2 1343.4 464.9 1344.4 480.1 C1345.4 495.3 1346.0 524.3 1347.0 540.2 C1348.0 556.1 1349.0 577.7 1350.3 575.5 C1351.6 573.3 1353.6 546.1 1355.0 527.0 C1356.4 507.9 1357.3 466.0 1358.6 460.7 C1359.9 455.4 1361.5 480.4 1362.9 495.0 C1364.3 509.6 1365.7 535.9 1367.1 548.6 C1368.5 561.3 1369.8 571.1 1371.4 571.1 C1373.0 571.1 1375.2 561.3 1376.8 548.6 C1378.4 535.9 1379.7 508.6 1381.1 495.0 C1382.5 481.4 1383.8 467.1 1385.4 467.1 C1387.0 467.1 1388.9 486.1 1390.7 495.0 C1392.5 503.9 1394.4 519.0 1396.1 520.7 C1397.8 522.4 1399.5 510.8 1401.0 505.0 C1402.5 499.2 1403.8 486.1 1405.4 485.7 C1407.0 485.3 1409.1 494.0 1410.7 502.9 C1412.3 511.8 1413.8 528.9 1415.0 539.3 C1416.2 549.6 1416.8 563.2 1418.2 565.0 C1419.6 566.8 1422.0 556.4 1423.6 550.0 C1425.2 543.6 1426.5 530.7 1427.9 526.4 C1429.3 522.1 1430.5 522.5 1432.1 524.3 C1433.7 526.1 1435.9 533.7 1437.5 537.1 C1439.1 540.5 1440.2 546.0 1441.8 544.6 C1443.4 543.2 1445.3 535.9 1447.1 528.6 C1448.9 521.3 1450.8 507.9 1452.5 500.7 C1454.2 493.5 1455.8 485.3 1457.4 485.7 C1459.0 486.1 1460.6 495.8 1462.1 502.9 C1463.6 510.0 1465.0 522.5 1466.4 528.6 C1467.8 534.7 1468.6 537.3 1470.7 539.3 C1472.8 541.2 1476.8 540.7 1479.3 540.3 C1481.8 539.9 1483.6 540.5 1485.7 537.1 C1487.8 533.7 1489.9 525.0 1492.1 520.0 C1494.2 515.0 1496.4 507.1 1498.6 507.1 C1500.8 507.1 1503.0 517.5 1505.0 520.0 C1507.0 522.5 1508.0 523.9 1510.3 522.0 C1512.6 520.1 1516.1 508.7 1518.6 508.6 C1521.0 508.5 1522.9 515.0 1525.0 521.4 C1527.1 527.8 1529.2 539.2 1531.4 547.1 C1533.6 555.0 1536.1 564.7 1537.9 568.6 C1539.7 572.5 1540.8 567.5 1542.1 570.7 C1543.3 573.9 1544.0 589.9 1545.4 587.8 C1546.8 585.7 1548.9 565.4 1550.7 557.9 C1552.5 550.4 1554.3 543.6 1556.1 542.9 C1557.9 542.2 1559.7 547.2 1561.4 553.6 C1563.1 560.0 1564.7 584.3 1566.5 581.4 C1568.3 578.5 1570.4 551.0 1572.1 536.4 C1573.8 521.8 1575.3 508.0 1576.4 493.6 C1577.5 479.2 1577.7 469.7 1578.6 450.0 C1579.5 430.3 1580.7 403.8 1581.8 375.2 C1582.9 346.6 1583.9 305.5 1585.0 278.7 C1586.1 251.9 1587.3 230.9 1588.3 214.3 C1589.3 197.7 1589.8 179.0 1590.8 179.0 C1591.8 179.0 1593.0 197.7 1594.1 214.3 C1595.2 230.9 1596.2 251.9 1597.3 278.7 C1598.4 305.5 1599.4 346.6 1600.5 375.2 C1601.6 403.8 1602.7 432.7 1603.7 450.2 C1604.7 467.7 1605.2 469.2 1606.4 480.0 C1607.6 490.8 1609.6 503.8 1610.7 515.0 C1611.8 526.2 1612.2 538.2 1612.9 547.1 C1613.6 556.0 1614.1 572.2 1615.0 568.6 C1615.9 565.0 1617.1 538.2 1618.2 525.7 C1619.3 513.2 1620.2 504.2 1621.4 493.6 C1622.7 483.0 1624.2 464.3 1625.7 462.0 C1627.2 459.7 1629.0 470.5 1630.5 480.0 C1632.0 489.5 1633.8 506.0 1635.0 519.0 C1636.2 532.0 1636.5 552.0 1638.0 558.0 C1639.5 564.0 1641.5 556.2 1644.0 555.0 C1646.5 553.8 1650.0 551.5 1653.0 550.5 C1656.0 549.5 1658.8 548.8 1662.0 549.0 C1665.2 549.2 1669.0 551.2 1672.5 552.0 C1676.0 552.8 1679.8 554.2 1683.0 553.5 C1686.2 552.8 1689.0 549.8 1692.0 547.5 C1695.0 545.2 1698.0 540.8 1701.0 540.0 C1704.0 539.2 1707.0 540.0 1710.0 543.0 C1713.0 546.0 1716.5 552.0 1719.0 558.0 C1721.5 564.0 1723.5 573.5 1725.0 579.0 C1726.5 584.5 1727.4 600.5 1728.3 591.0 C1729.2 581.5 1729.4 531.5 1730.5 522.0 C1731.6 512.5 1733.2 531.4 1735.0 533.9 C1736.8 536.4 1738.8 538.4 1741.0 536.9 C1743.2 535.4 1746.8 515.9 1748.5 524.9 C1750.2 533.9 1750.0 585.4 1751.5 590.9 C1753.0 596.4 1755.2 570.4 1757.5 557.9 C1759.8 545.4 1762.5 527.4 1765.0 515.9 C1767.5 504.4 1770.0 494.9 1772.5 488.9 C1775.0 482.9 1777.8 479.0 1780.0 480.0 C1782.2 481.0 1784.3 484.9 1786.0 494.9 C1787.7 504.9 1789.4 524.4 1790.4 539.9 C1791.5 555.4 1791.8 584.6 1792.3 588.0 C1792.8 591.4 1793.1 562.3 1793.5 560.0 C1793.9 557.7 1794.2 575.2 1794.5 574.0 C1794.8 572.8 1795.2 553.3 1795.5 553.0 C1795.8 552.7 1796.2 572.2 1796.5 572.0 C1796.8 571.8 1797.2 552.3 1797.5 552.0 C1797.8 551.7 1798.2 571.2 1798.5 570.0 C1798.8 568.8 1798.9 545.3 1799.2 545.0 C1799.5 544.7 1799.9 566.8 1800.2 568.0 C1800.5 569.2 1800.9 551.0 1801.2 552.0 C1801.5 553.0 1801.9 573.8 1802.2 574.0 C1802.5 574.2 1802.9 553.3 1803.2 553.0 C1803.5 552.7 1803.9 572.2 1804.2 572.0 C1804.5 571.8 1804.9 551.7 1805.2 552.0 C1805.5 552.3 1805.9 573.8 1806.2 574.0 C1806.5 574.2 1806.9 558.7 1807.2 553.0 C1807.5 547.3 1807.9 548.5 1808.3 540.0 C1808.7 531.5 1809.3 502.0 1809.7 502.0 C1810.1 502.0 1810.5 527.7 1810.8 540.0 C1811.1 552.3 1811.3 571.7 1811.8 576.0 C1812.2 580.3 1813.2 567.7 1813.5 566.0"/>
</g>
<rect x="1101.5" y="51.2" width="715.5" height="666" fill="none" stroke="#000" stroke-width="4.5"/>
<g stroke-width="4" stroke-linecap="butt">
<line x1="1106.5" y1="875" x2="1152" y2="875" stroke="#376EAA"/>
<line x1="1519" y1="875" x2="1564" y2="875" stroke="#C97331"/>
<line x1="1709" y1="875" x2="1754" y2="875" stroke="#7E7E7E"/>
</g>
<g font-family="Liberation Sans, Arial, sans-serif" font-weight="bold" fill="#0d0d0d" font-size="26">
<text x="1156.2" y="884.0" textLength="279.2" lengthAdjust="spacing" >Pt-CdS/Ag3PO4/Chito</text>
<text x="1440.4" y="884.0" textLength="42.1" lengthAdjust="spacing" >san</text>
<text x="1567.5" y="884.0" textLength="104.7" lengthAdjust="spacing" >Ag3PO4</text>
<text x="1757.7" y="884.0" textLength="49.9" lengthAdjust="spacing" >CdS</text>
</g>
</g>
</svg>
</body></html>
